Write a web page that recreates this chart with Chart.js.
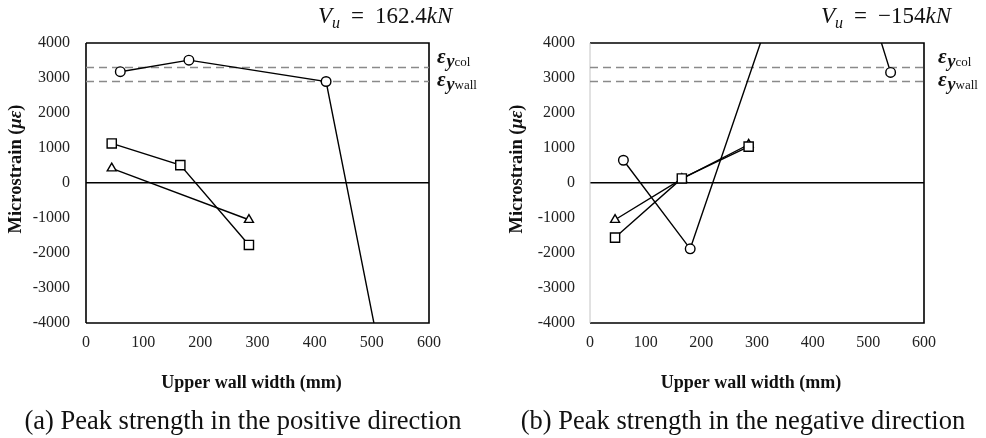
<!DOCTYPE html>
<html>
<head>
<meta charset="utf-8">
<script src="https://cdn.jsdelivr.net/npm/chart.js@4/dist/chart.umd.min.js"></script>
<style>
  html, body { margin: 0; padding: 0; background: #fff; }
  #wrap { position: relative; width: 986px; height: 438px; overflow: hidden; }
  .panel { position: absolute; top: 0; width: 493px; height: 438px; }
  .caption {
    position: absolute; top: 405px; line-height: 30px;
    font-family: "Liberation Serif", "Times New Roman", serif; font-size: 26.5px;
    color: #111; white-space: nowrap; transform: translateX(-50%);
  }
</style>
</head>
<body>
<div id="wrap">
  <div class="panel" style="left:0"><canvas id="chartPos" width="493" height="438"></canvas></div>
  <div class="panel" style="left:493px"><canvas id="chartNeg" width="493" height="438"></canvas></div>
  <div class="caption" style="left:243px">(a) Peak strength in the positive direction</div>
  <div class="caption" style="left:743px">(b) Peak strength in the negative direction</div>
</div>
<script>
// Gauge positions along the upper wall (mm) and measured strains (με)
// (a) peak strength, positive direction
const posCircleWidth  = [60, 180, 420, 540];
const posCircleStrain = [3180, 3510, 2900, -7000];
const posSquareWidth  = [45, 165, 285];
const posSquareStrain = [1130, 510, -1770];
const posTriWidth     = [45, 285];
const posTriStrain    = [420, -1050];

// (b) peak strength, negative direction
const negCircleWidth  = [60, 180, 420, 540];
const negCircleStrain = [650, -1880, 9300, 3160];
const negSquareWidth  = [45, 165, 285];
const negSquareStrain = [-1560, 130, 1040];
const negTriWidth     = [45, 165, 285];
const negTriStrain    = [-1050, 120, 1100];

// Yield strains of column and wall reinforcement
const yieldCol  = 3300;
const yieldWall = 2900;

// Axis ranges and tick steps
const xRange = [0, 600];
const xStep = 100;
const yRange = [-4000, 4000];
const yStep = 1000;

// Shear force at peak
const shearPos = '162.4';
const shearNeg = '\u2212154';

const SERIF = '"Liberation Serif", "Times New Roman", serif';

function pts(xs, ys) { return xs.map((x, i) => ({ x: x, y: ys[i] })); }

function seriesSet(style, xs, ys, radius) {
  return {
    data: pts(xs, ys),
    borderColor: '#000', borderWidth: 1.4,
    pointStyle: style, pointRadius: radius, pointHoverRadius: radius,
    pointBackgroundColor: '#fff', pointBorderColor: '#000', pointBorderWidth: 1.4,
    tension: 0, order: 0
  };
}

function yieldSet(val) {
  return {
    data: pts(xRange, [val, val]),
    borderColor: '#8a8a8a', borderWidth: 1.3, borderDash: [8, 5],
    pointRadius: 0, pointHoverRadius: 0, tension: 0, order: 10
  };
}

function drawRuns(ctx, x, y, parts) {
  for (const p of parts) {
    ctx.font = p.f;
    ctx.fillText(p.t, x, y + (p.dy || 0));
    x += ctx.measureText(p.t).width + (p.gap || 0);
  }
  return x;
}
function runsWidth(ctx, parts) {
  let w = 0;
  for (const p of parts) { ctx.font = p.f; w += ctx.measureText(p.t).width + (p.gap || 0); }
  return w;
}

function makeAnnotations(cfg) {
  return {
    id: 'panelAnnotations',
    beforeDatasetsDraw(chart) {
      const { ctx, chartArea: a } = chart;
      ctx.save();
      ctx.lineWidth = 1.6;
      ctx.strokeStyle = '#000';
      ctx.beginPath();
      ctx.moveTo(a.left, a.top);
      ctx.lineTo(a.right, a.top);
      ctx.lineTo(a.right, a.bottom);
      ctx.lineTo(a.left, a.bottom);
      ctx.stroke();
      ctx.lineWidth = cfg.leftEdgeWidth;
      ctx.strokeStyle = cfg.leftEdgeColor;
      ctx.beginPath();
      ctx.moveTo(a.left, a.top);
      ctx.lineTo(a.left, a.bottom);
      ctx.stroke();
      ctx.restore();
    },
    afterDraw(chart) {
      const { ctx, chartArea: a } = chart;
      ctx.save();
      ctx.fillStyle = '#111';
      ctx.textBaseline = 'alphabetic';
      ctx.textAlign = 'left';

      // Shear force heading
      drawRuns(ctx, cfg.headX, 23, [
        { t: 'V', f: 'italic 23px ' + SERIF },
        { t: 'u', f: 'italic 16px ' + SERIF, dy: 5, gap: 11 },
        { t: '=', f: '23px ' + SERIF, gap: 11 },
        { t: cfg.shear, f: '23px ' + SERIF },
        { t: 'kN', f: 'italic 23px ' + SERIF }
      ]);

      // Yield strain labels beside the dashed lines
      const lx = a.right + cfg.labelGap;
      const yCol = chart.scales.y.getPixelForValue(yieldCol);
      const yWall = chart.scales.y.getPixelForValue(yieldWall);
      const epsLabel = (y, sub) => drawRuns(ctx, lx, y, [
        { t: '\u03b5', f: 'italic bold 21px ' + SERIF, gap: 1 },
        { t: 'y', f: 'italic bold 18px ' + SERIF, dy: 4 },
        { t: sub, f: '13px ' + SERIF, dy: 3 }
      ]);
      epsLabel(yCol - 5, 'col');
      epsLabel(yWall + 4, 'wall');

      // Y axis title, rotated
      const yParts = [
        { t: 'Microstrain (', f: 'bold 18.5px ' + SERIF },
        { t: '\u03bc\u03b5', f: 'italic bold 18.5px ' + SERIF },
        { t: ')', f: 'bold 18.5px ' + SERIF }
      ];
      ctx.save();
      ctx.translate(cfg.yTitleX, 169);
      ctx.rotate(-Math.PI / 2);
      drawRuns(ctx, -runsWidth(ctx, yParts) / 2, 6, yParts);
      ctx.restore();

      // X axis title
      ctx.font = 'bold 18px ' + SERIF;
      ctx.textAlign = 'center';
      ctx.fillText('Upper wall width (mm)', (a.left + a.right) / 2 - 6, 388);
      ctx.restore();
    }
  };
}

const plainTick = (v) => String(v);

function buildChart(id, sets, cfg) {
  return new Chart(document.getElementById(id), {
    type: 'line',
    data: { datasets: sets },
    options: {
      responsive: false,
      animation: false,
      events: [],
      layout: { padding: { left: 0, top: 43, right: cfg.padRight, bottom: 75 } },
      plugins: { legend: { display: false }, tooltip: { enabled: false }, title: { display: false } },
      scales: {
        x: {
          type: 'linear', min: xRange[0], max: xRange[1],
          afterFit(s) { s.height = 40; },
          grid: { display: false, drawTicks: false },
          border: { display: false },
          ticks: { stepSize: xStep, padding: 10, color: '#222', callback: plainTick,
                   font: { family: SERIF, size: 16 } }
        },
        y: {
          type: 'linear', min: yRange[0], max: yRange[1],
          afterFit(s) { s.width = cfg.yWidth; },
          grid: {
            drawTicks: false,
            color: (c) => (c.tick && c.tick.value === 0 ? '#000' : 'rgba(0,0,0,0)'),
            lineWidth: (c) => (c.tick && c.tick.value === 0 ? 1.6 : 0)
          },
          border: { display: false },
          ticks: { stepSize: yStep, padding: cfg.yTickPad, color: '#222', callback: plainTick,
                   font: { family: SERIF, size: 16 } }
        }
      }
    },
    plugins: [makeAnnotations(cfg)]
  });
}

buildChart('chartPos', [
  yieldSet(yieldCol), yieldSet(yieldWall),
  seriesSet('circle', posCircleWidth, posCircleStrain, 4.8),
  seriesSet('rect', posSquareWidth, posSquareStrain, 6.5),
  seriesSet('triangle', posTriWidth, posTriStrain, 5.2)
], { padRight: 64, yWidth: 86, yTickPad: 16, yTitleX: 15, headX: 318, labelGap: 8,
     shear: shearPos, leftEdgeColor: '#000', leftEdgeWidth: 1.6 });

buildChart('chartNeg', [
  yieldSet(yieldCol), yieldSet(yieldWall),
  seriesSet('circle', negCircleWidth, negCircleStrain, 4.8),
  seriesSet('rect', negSquareWidth, negSquareStrain, 6.5),
  seriesSet('triangle', negTriWidth, negTriStrain, 5.2)
], { padRight: 62, yWidth: 97, yTickPad: 15, yTitleX: 23, headX: 328, labelGap: 14,
     shear: shearNeg, leftEdgeColor: '#c4c4c4', leftEdgeWidth: 1 });
</script>
</body>
</html>
